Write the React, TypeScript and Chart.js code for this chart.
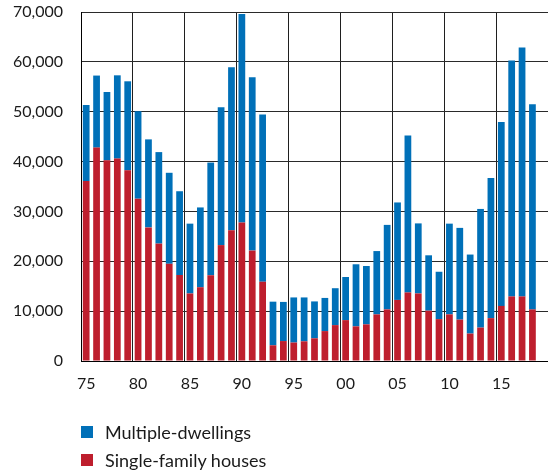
import React, { useEffect, useRef } from "react";
import { Chart, registerables } from "chart.js";

Chart.register(...registerables);

const years: string[] = [
  "1975", "1976", "1977", "1978", "1979", "1980", "1981", "1982", "1983", "1984",
  "1985", "1986", "1987", "1988", "1989", "1990", "1991", "1992", "1993", "1994",
  "1995", "1996", "1997", "1998", "1999", "2000", "2001", "2002", "2003", "2004",
  "2005", "2006", "2007", "2008", "2009", "2010", "2011", "2012", "2013", "2014",
  "2015", "2016", "2017", "2018", "2019",
];

const singleFamily: (number | null)[] = [
  36100, 42800, 40250, 40600, 38250, 32550, 26800, 23550, 19500, 17250,
  13550, 14800, 17200, 23250, 26250, 27800, 22150, 15900, 3150, 4000,
  3700, 3950, 4550, 6000, 7200, 8200, 6950, 7350, 9350, 10350,
  12250, 13750, 13550, 10100, 8400, 9350, 8300, 5500, 6700, 8600,
  11050, 12950, 12950, 10350, null,
];

const multipleDwellings: (number | null)[] = [
  15250, 14450, 13700, 16700, 17850, 17550, 17650, 18350, 18250, 16800,
  14000, 16000, 22600, 27650, 32650, 41800, 34750, 33550, 8750, 7850,
  9050, 8800, 7400, 6650, 7400, 8650, 12450, 11700, 12700, 16950,
  19550, 31500, 14050, 11100, 9500, 18200, 18400, 15850, 23800, 28100,
  36900, 47300, 49950, 41150, null,
];

const seriesNames = ["Single-family houses", "Multiple-dwellings"];
const seriesColors = ["#BE1E2D", "#0070B8"];

const FONT = "Lato, 'Open Sans', sans-serif";

export default function App() {
  const canvasRef = useRef<HTMLCanvasElement | null>(null);

  useEffect(() => {
    document.body.style.margin = "0";
    const ctx = canvasRef.current;
    if (!ctx) return;
    const chart = new Chart(ctx, {
      type: "bar",
      data: {
        labels: years,
        datasets: [
          {
            label: seriesNames[0],
            data: singleFamily,
            backgroundColor: seriesColors[0],
            borderWidth: 0,
            barPercentage: 0.65,
            categoryPercentage: 1,
          },
          {
            label: seriesNames[1],
            data: multipleDwellings,
            backgroundColor: seriesColors[1],
            borderWidth: 0,
            barPercentage: 0.65,
            categoryPercentage: 1,
          },
        ],
      },
      options: {
        animation: false,
        responsive: false,
        maintainAspectRatio: false,
        layout: { padding: { top: 12, right: 0, bottom: 79, left: 0 } },
        plugins: {
          legend: { display: false },
          tooltip: { enabled: false },
        },
        scales: {
          x: {
            stacked: true,
            offset: true,
            grid: {
              offset: true,
              drawTicks: false,
              color: (c: any) =>
                c.index % 5 === 0 && c.index < 45 ? "#1f1f1f" : "rgba(0,0,0,0)",
              lineWidth: 1,
            },
            border: { display: true, color: "#000000", width: 1 },
            ticks: {
              autoSkip: false,
              maxRotation: 0,
              minRotation: 0,
              padding: 13,
              color: "#1a1a1a",
              font: { family: FONT, size: 16 },
              callback: (_v: any, i: number) =>
                i % 5 === 0 && i < 44 ? years[i].slice(2) : "",
            },
            afterFit: (s: any) => {
              s.height = 30;
              s.paddingLeft = 0;
              s.paddingRight = 0;
            },
          },
          y: {
            stacked: true,
            min: 0,
            max: 70000,
            grid: {
              drawTicks: false,
              color: "#2a2a2a",
              lineWidth: 1,
            },
            border: { display: true, color: "#000000", width: 1 },
            ticks: {
              stepSize: 10000,
              padding: 18,
              color: "#1a1a1a",
              font: { family: FONT, size: 16 },
              callback: (v: any) => Number(v).toLocaleString("en-US"),
            },
            afterFit: (s: any) => {
              s.width = 81;
              s.paddingTop = 0;
              s.paddingBottom = 0;
            },
          },
        },
      },
    });
    return () => chart.destroy();
  }, []);

  const legendItems = [
    { name: seriesNames[1], color: seriesColors[1], top: 426 },
    { name: seriesNames[0], color: seriesColors[0], top: 454 },
  ];

  return (
    <div style={{ position: "absolute", left: 0, top: 0, width: 548, height: 470 }}>
      <canvas ref={canvasRef} width={548} height={470} style={{ display: "block" }} />
      {legendItems.map((it) => (
        <div
          key={it.name}
          style={{
            position: "absolute",
            left: 81,
            top: it.top,
            height: 12,
            display: "flex",
            alignItems: "center",
            fontFamily: FONT,
            fontSize: 18,
            color: "#1a1a1a",
            whiteSpace: "nowrap",
          }}
        >
          <span style={{ display: "inline-block", width: 12, height: 12, background: it.color, marginRight: 12, flex: "none" }} />
          <span>{it.name}</span>
        </div>
      ))}
    </div>
  );
}
